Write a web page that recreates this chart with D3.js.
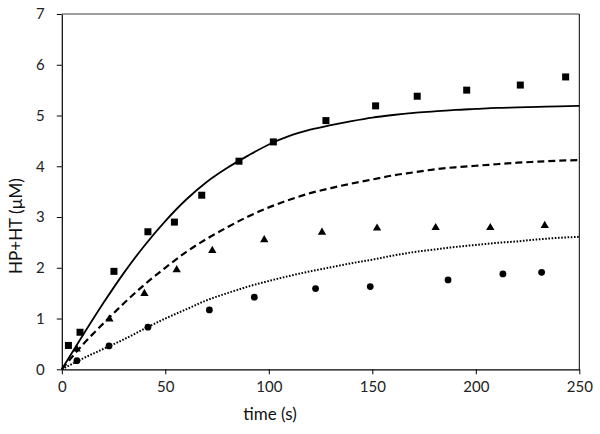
<!DOCTYPE html>
<html><head><meta charset="utf-8">
<script src="https://cdn.jsdelivr.net/npm/d3@7"></script>
<style>body{margin:0;background:#fff}svg{display:block}</style>
</head><body>
<svg id="c" width="600" height="434"></svg>
<script>
// Data
const xTicks = [0, 50, 100, 150, 200, 250];
const yTicks = [0, 1, 2, 3, 4, 5, 6, 7];

const squaresT = [3.2, 8.8, 25.2, 41.6, 54.4, 67.6, 85.6, 102.2, 127.6, 151.6, 171.7, 195.6, 221.5, 243.4];
const squaresV = [0.47, 0.73, 1.93, 2.71, 2.90, 3.43, 4.10, 4.48, 4.90, 5.19, 5.38, 5.50, 5.60, 5.76];

const trianglesT = [7.2, 23.0, 39.9, 55.5, 72.7, 97.8, 125.7, 152.3, 180.6, 207.0, 233.3];
const trianglesV = [0.40, 0.99, 1.49, 1.96, 2.34, 2.55, 2.70, 2.78, 2.79, 2.79, 2.83];

const circlesT = [7.3, 22.8, 41.6, 71.3, 93.0, 122.6, 149.0, 186.6, 213.1, 231.8];
const circlesV = [0.17, 0.46, 0.83, 1.17, 1.42, 1.59, 1.63, 1.76, 1.88, 1.91];

// fitted curves, read every 10 s
const curveT = [0,10,20,30,40,50,60,70,80,90,100,110,120,130,140,150,160,170,180,190,200,210,220,230,240,250];
const solidV  = [0,0.66,1.30,1.90,2.44,2.92,3.34,3.69,3.97,4.21,4.43,4.60,4.72,4.81,4.89,4.96,5.01,5.05,5.08,5.11,5.13,5.15,5.16,5.17,5.18,5.19];
const dashedV = [0,0.48,0.90,1.30,1.67,2.00,2.31,2.57,2.80,3.01,3.19,3.34,3.47,3.57,3.66,3.74,3.82,3.88,3.94,3.98,4.01,4.04,4.07,4.09,4.11,4.12];
const dottedV = [0,0.21,0.40,0.59,0.80,1.00,1.18,1.36,1.50,1.63,1.74,1.84,1.93,2.01,2.09,2.16,2.24,2.31,2.36,2.41,2.45,2.49,2.52,2.56,2.59,2.61];

const svg = d3.select("#c");
const x = d3.scaleLinear().domain([0, 250]).range([61.8, 579.3]);
const y = d3.scaleLinear().domain([0, 7]).range([369.3, 14]);
const font = "Lato, 'Open Sans', sans-serif";

// frame: top gray, right black
svg.append("line").attr("x1", x(0)).attr("x2", x(250)).attr("y1", y(7)).attr("y2", y(7))
  .attr("stroke", "#7f7f7f").attr("stroke-width", 1.5);
svg.append("line").attr("x1", x(250)).attr("x2", x(250)).attr("y1", y(7)).attr("y2", y(0))
  .attr("stroke", "#000").attr("stroke-width", 1);

// axes
const xAxis = svg.append("g").attr("transform", `translate(0,${y(0)})`)
  .call(d3.axisBottom(x).tickValues(xTicks).tickFormat(d3.format("d")).tickSize(5).tickPadding(7).tickSizeOuter(0));
const yAxis = svg.append("g").attr("transform", `translate(${x(0)},0)`)
  .call(d3.axisLeft(y).tickValues(yTicks).tickFormat(d3.format("d")).tickSize(5).tickPadding(12).tickSizeOuter(0));
[xAxis, yAxis].forEach(g => {
  g.select(".domain").attr("stroke", "#000").attr("stroke-width", 1.2);
  g.selectAll(".tick line").attr("stroke", "#000").attr("stroke-width", 1);
  g.selectAll(".tick text").attr("font-family", font).attr("font-size", 15).attr("fill", "#222");
});

// curves
const line = d3.line().x((d, i) => x(curveT[i])).y(d => y(d)).curve(d3.curveMonotoneX);
svg.append("path").attr("d", line(solidV)).attr("fill", "none").attr("stroke", "#000").attr("stroke-width", 1.8);
svg.append("path").attr("d", line(dashedV)).attr("fill", "none").attr("stroke", "#000").attr("stroke-width", 2.2)
  .attr("stroke-dasharray", "7,4");
svg.append("path").attr("d", line(dottedV)).attr("fill", "none").attr("stroke", "#000").attr("stroke-width", 2)
  .attr("stroke-dasharray", "1.6,1.6");

// markers
svg.append("g").selectAll("rect").data(squaresV).join("rect")
  .attr("x", (d, i) => x(squaresT[i]) - 3.5).attr("y", d => y(d) - 3.5)
  .attr("width", 7).attr("height", 7).attr("fill", "#000");
const tri = d3.symbol().type(d3.symbolTriangle).size(30);
svg.append("g").selectAll("path").data(trianglesV).join("path")
  .attr("d", tri).attr("transform", (d, i) => `translate(${x(trianglesT[i])},${y(d)})`).attr("fill", "#000");
svg.append("g").selectAll("circle").data(circlesV).join("circle")
  .attr("cx", (d, i) => x(circlesT[i])).attr("cy", d => y(d)).attr("r", 3.4).attr("fill", "#000");

// axis titles
svg.append("text").attr("x", 270).attr("y", 420).attr("text-anchor", "middle")
  .attr("font-family", font).attr("font-size", 17).attr("fill", "#111").text("time (s)");
svg.append("text").attr("transform", "translate(22,226) rotate(-90)").attr("text-anchor", "middle")
  .attr("font-family", font).attr("font-size", 17).attr("fill", "#111").text("HP+HT (µM)");
</script>
</body></html>
